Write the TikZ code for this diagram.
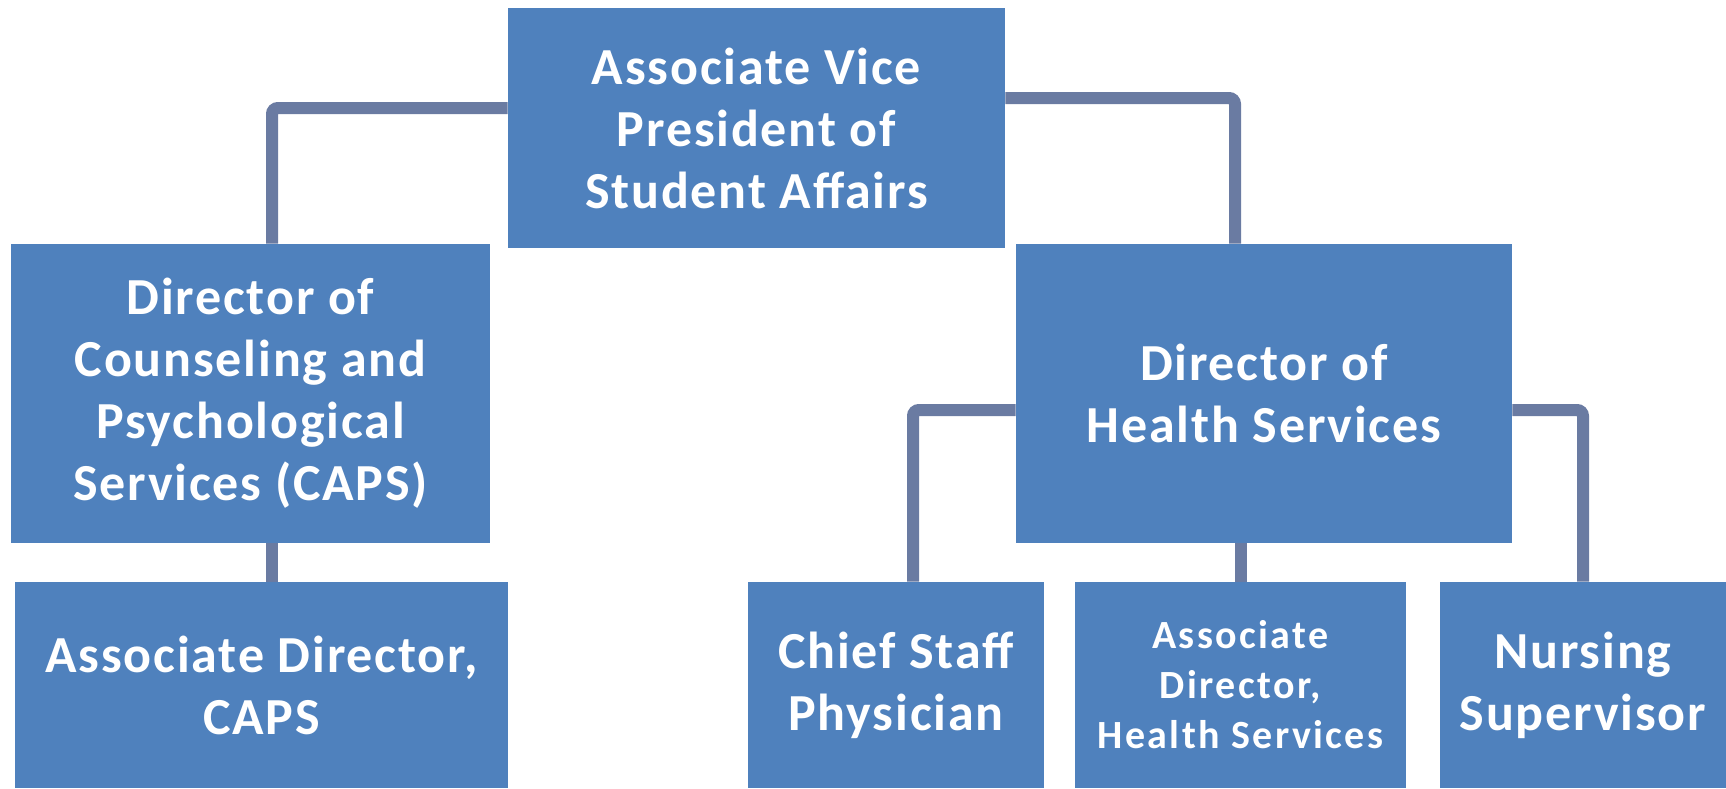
\documentclass[tikz,border=0pt]{standalone}
\usepackage{fontspec}
\setmainfont{Carlito}[LetterSpace=3.5]
\newfontfamily\widecarlito{Carlito}[LetterSpace=6]
\definecolor{boxblue}{HTML}{4F81BD}
\definecolor{linkgray}{HTML}{6A7BA2}
\begin{document}
\begin{tikzpicture}[x=0.5pt, y=-0.5pt,
		box/.style={fill=boxblue, text=white, align=center, inner sep=0pt, font=\bfseries\fontsize{26}{31}\selectfont},
		link/.style={draw=linkgray, line width=6pt, rounded corners=3pt}]
	
	\useasboundingbox (0,0) rectangle (1726,788);
	
	\node[box, minimum width=248.5pt, minimum height=120pt] (avp) at (756.5,128) {Associate Vice\\President of\\Student Affairs};
	
	\node[box, minimum width=239.5pt, minimum height=149.5pt] (caps) at (250.5,393.5) {Director of\\Counseling and\\Psychological\\Services (CAPS)};
	\node[box, minimum width=248pt, minimum height=149.5pt] (hsd) at (1264,393.5) {Director of\\Health Services};
	
	\node[box, minimum width=246.5pt, minimum height=103pt] (acaps) at (261.5,685) {Associate Director,\\CAPS};
	\node[box, minimum width=148pt, minimum height=103pt] (chief) at (896,685) {Chief Staff\\Physician};
	\node[box, minimum width=165.5pt, minimum height=103pt, font=\widecarlito\bfseries\fontsize{20}{25}\selectfont] (ahs) at (1240.5,685) {Associate\\Director,\\Health Services};
	\node[box, minimum width=143pt, minimum height=103pt] (nurse) at (1583,685) {Nursing\\Supervisor};
	
	\draw[link] ([yshift=10pt]avp.west) -| ([xshift=10.75pt]caps.north);
	\draw[link] ([yshift=15pt]avp.east) -| ([xshift=-14.5pt]hsd.north);
	
	\draw[link] ([xshift=10.75pt]caps.south) to ([xshift=10.75pt]caps.south |- acaps.north);
	
	\draw[link] ([yshift=-8.25pt]hsd.west) -| ([xshift=8.5pt]chief.north);
	\draw[link] (ahs.north |- hsd.south) to (ahs.north);
	\draw[link] ([yshift=-8.25pt]hsd.east) -| (nurse.north);
	
\end{tikzpicture}
\end{document}
